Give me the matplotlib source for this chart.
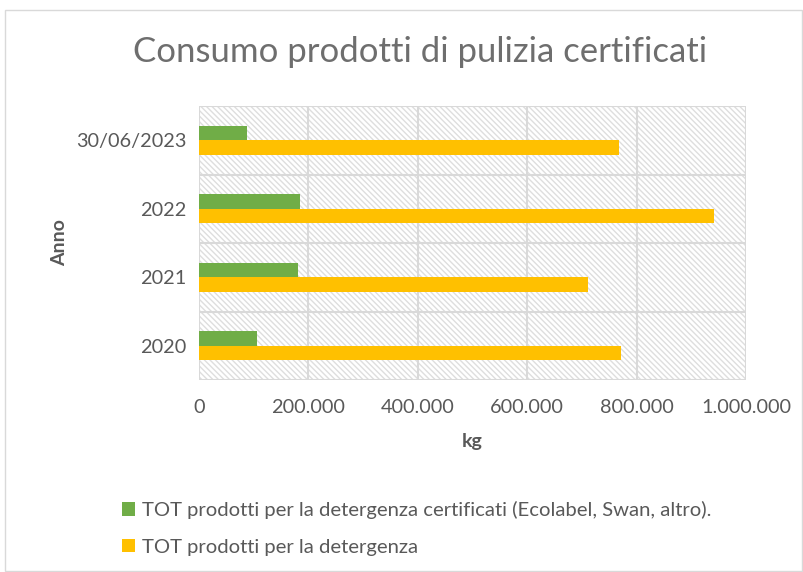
import numpy as np
import matplotlib
matplotlib.use("Agg")
from matplotlib import pyplot as plt
from matplotlib.patches import Rectangle
from matplotlib.ticker import FuncFormatter

anni = ["2020", "2021", "2022", "30/06/2023"]
certificati = [106000, 181000, 185000, 88000]
totale = [771000, 712000, 941000, 767000]
etichette = ["TOT prodotti per la detergenza certificati (Ecolabel, Swan, altro).",
             "TOT prodotti per la detergenza"]

plt.rcParams['font.family'] = ['Lato', 'DejaVu Sans']
plt.rcParams['hatch.color'] = '#dedede'
plt.rcParams['hatch.linewidth'] = 1.0

grigio = '#595959'
fig = plt.figure(figsize=(8.04, 5.72), dpi=100)
ax = fig.add_axes([199/804, 1-380/572, (746-199)/804, (380-106)/572])

# bordo del grafico
fig.patches.append(Rectangle((5/804, 0.002), 1-5/804-0.002, 1-10/572-0.002,
                             transform=fig.transFigure, fill=False,
                             edgecolor='#d9d9d9', lw=1))

# sfondo tratteggiato
ax.add_patch(Rectangle((0, 0), 1, 1, transform=ax.transAxes, facecolor='white',
                       hatch='\\' * 6, edgecolor='#dedede', lw=0, zorder=0))

y = np.arange(len(anni))
h = 0.21
ax.barh(y + h/2, certificati, height=h, color='#70AD47', label=etichette[0], zorder=3)
ax.barh(y - h/2, totale, height=h, color='#FFC000', label=etichette[1], zorder=3)

ax.set_xlim(0, 1000000)
ax.set_ylim(-0.5, 3.5)
ax.set_xticks(np.arange(0, 1000001, 200000))
ax.xaxis.set_major_formatter(FuncFormatter(lambda v, p: f"{int(v):,}".replace(",", ".")))
ax.set_yticks(y)
ax.set_yticklabels(anni)

# griglia
for xv in np.arange(0, 1000001, 200000):
    ax.axvline(xv, color='#d9d9d9', lw=1.5, zorder=1)
for yv in np.arange(-0.5, 3.6, 1):
    ax.axhline(yv, color='#d9d9d9', lw=1.5, zorder=1)
for s in ax.spines.values():
    s.set_visible(False)

ax.tick_params(length=0, labelsize=14.3, colors=grigio, pad=9)
ax.tick_params(axis='x', pad=14)
ax.set_xlabel('kg', fontsize=14, fontweight='bold', color=grigio, labelpad=12)
ax.set_ylabel('Anno', fontsize=14, fontweight='bold', color=grigio, labelpad=6)

fig.text(420/804, 1-52/572, 'Consumo prodotti di pulizia certificati', ha='center',
         va='center', fontsize=25, color='#6e6e6e')

fig.legend(loc='upper left', bbox_to_anchor=(104/804, 1-483/572), frameon=False,
           fontsize=14.6, labelcolor=grigio, handlelength=0.65, handleheight=0.65,
           handletextpad=0.3, labelspacing=0.95)

plt.savefig('out.png', dpi=100)
plt.close()
